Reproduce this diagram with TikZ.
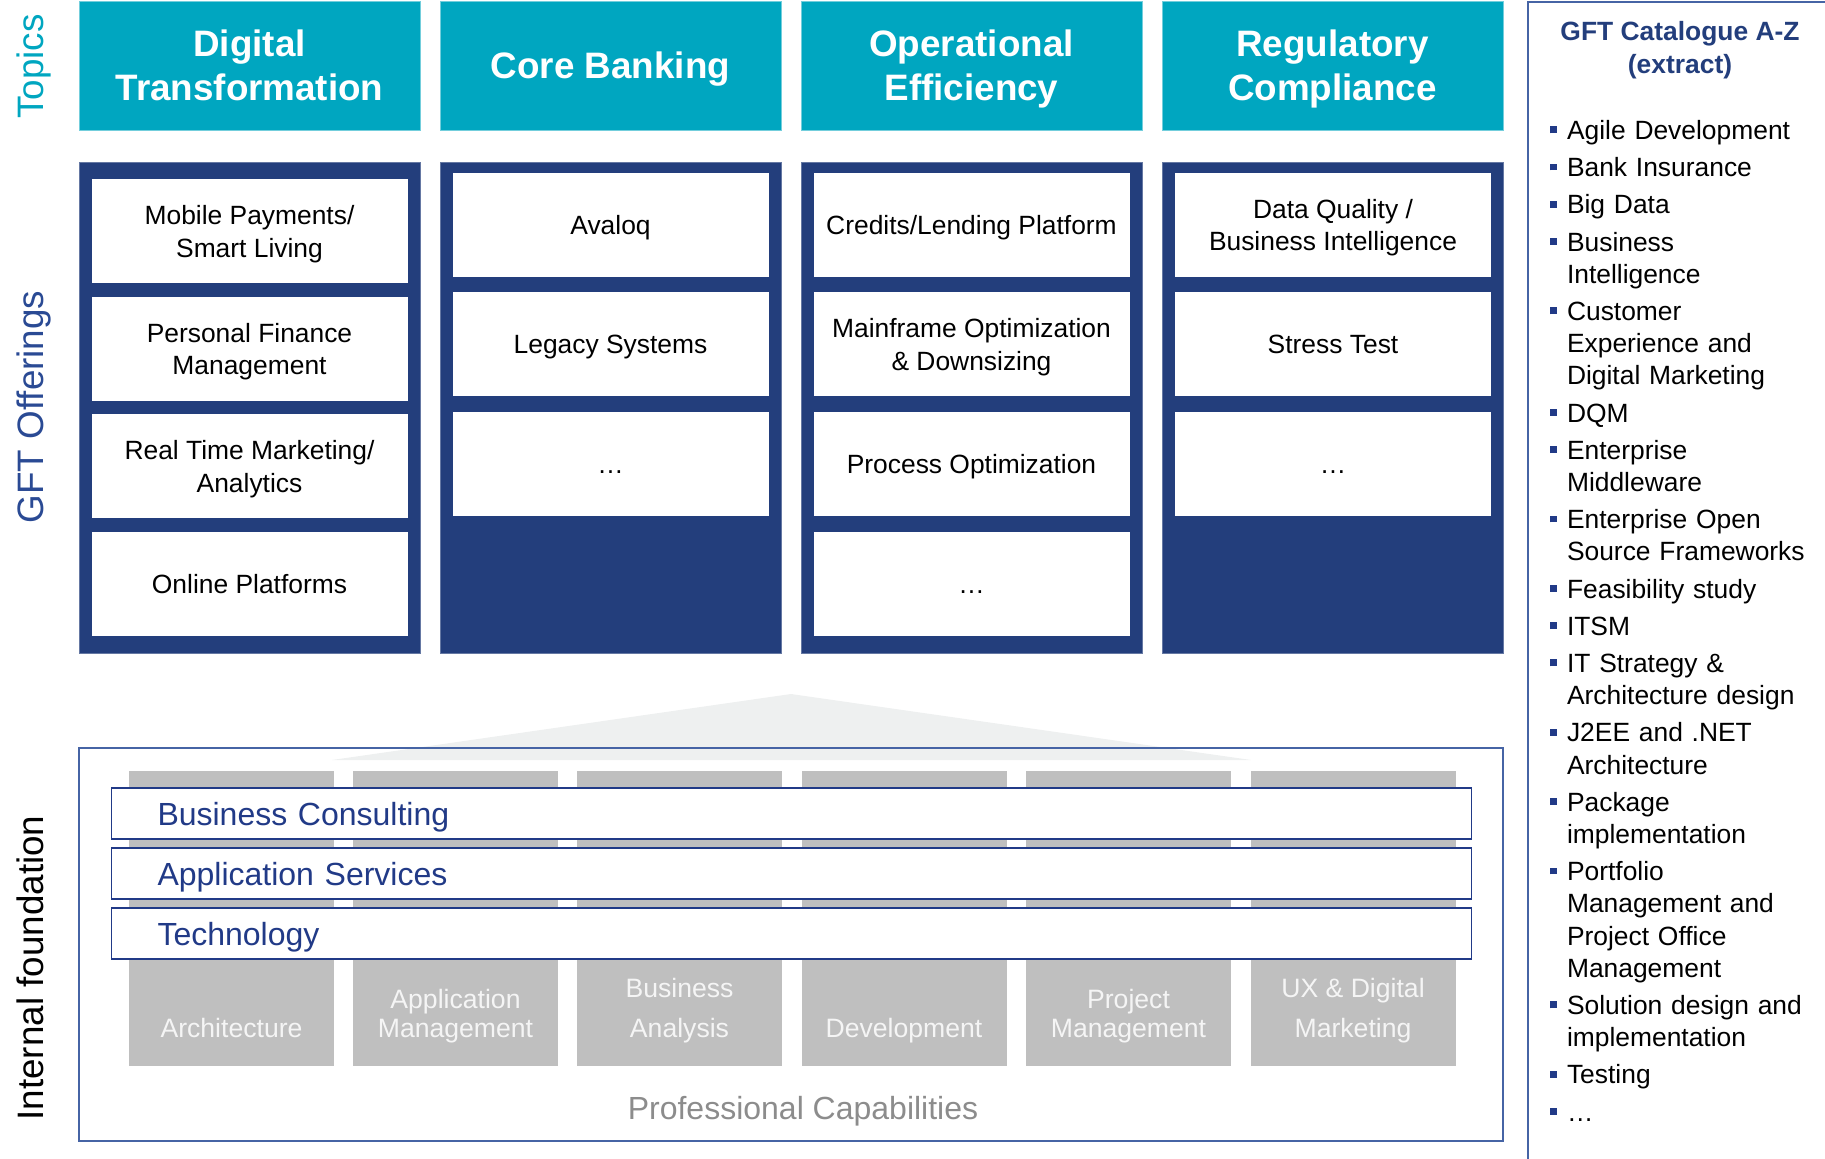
\documentclass[tikz,border=0pt]{standalone}
\usepackage{fontspec}
\setmainfont{Liberation Sans}

\definecolor{gftteal}{RGB}{0,166,192}
\definecolor{gftnavy}{RGB}{35,62,124}
\definecolor{gftblue}{RGB}{33,58,135}
\definecolor{gftlabel}{RGB}{42,74,148}
\definecolor{gftline}{RGB}{70,100,165}
\definecolor{capgray}{RGB}{191,191,191}
\definecolor{capfont}{RGB}{245,245,245}
\definecolor{roofgray}{RGB}{238,240,240}
\definecolor{profgray}{RGB}{140,140,140}

\newcommand{\catbullet}{\textcolor{gftblue}{\rule[0.24em]{0.25em}{0.26em}}}

\tikzset{
    topic/.style={fill=gftteal, draw=gftteal!55!white, line width=0.4pt, text=white, inner sep=0pt, minimum width=170.5pt, minimum height=64.5pt, text depth=0pt, align=center, font=\bfseries\fontsize{18.4}{22.1}\selectfont},
    panel/.style={fill=gftnavy, draw=gftnavy!70!white, line width=0.4pt, inner sep=0pt, minimum width=170.5pt, minimum height=245.5pt},
    offer/.style={fill=white, inner sep=0pt, minimum width=158pt, minimum height=52pt, text depth=0pt, align=center, font=\fontsize{13.2}{16.3}\selectfont},
    capcol/.style={fill=capgray, inner sep=0pt, minimum width=102.5pt, minimum height=147.5pt},
    captext/.style={text=capfont, inner sep=0pt, text depth=0pt, align=center, font=\fontsize{13.3}{14.5}\selectfont},
    band/.style={draw=gftblue, line width=0.9pt, fill=white, minimum height=25.5pt, text width=634pt, inner xsep=23pt, inner ysep=0pt, text depth=0pt, align=left, text=gftblue, font=\fontsize{16}{19}\selectfont},
    sidelabel/.style={rotate=90, inner sep=0pt, text depth=0pt, font=\fontsize{18.4}{22}\selectfont},
}

\begin{document}
\begin{tikzpicture}[x=0.5pt, y=-0.5pt]
    \useasboundingbox (0,0) rectangle (1825,1159);
    %Side labels
        \node[sidelabel, text=gftteal] (lbltopics) at (30,66.5) {Topics};
        \node[sidelabel, text=gftlabel] (lbloffer) at (30,407) {GFT Offerings};
        \node[sidelabel, text=black] (lblfound) at (30,968) {Internal foundation};
    %Topics
        \node[topic] (t1) at (249.5,65.5) {Digital\\Transformation};
        \node[topic] (t2) at (610.5,65.5) {Core Banking};
        \node[topic] (t3) at (971.5,65.5) {Operational\\Efficiency};
        \node[topic] (t4) at (1332.5,65.5) {Regulatory\\Compliance};
    %Offerings
        \node[panel] (p1) at (249.5,407.5) {};
        \node[panel] (p2) at (610.5,407.5) {};
        \node[panel] (p3) at (971.5,407.5) {};
        \node[panel] (p4) at (1332.5,407.5) {};
        %
        \node[offer] (o11) at (249.5,231.5) {Mobile Payments/\\Smart Living};
        \node[offer] (o12) at (249.5,349) {Personal Finance\\Management};
        \node[offer] (o13) at (249.5,466.5) {Real Time Marketing/\\Analytics};
        \node[offer] (o14) at (249.5,584) {Online Platforms};
        %
        \node[offer] (o21) at (610.5,225) {Avaloq};
        \node[offer] (o22) at (610.5,344.5) {Legacy Systems};
        \node[offer] (o23) at (610.5,464) {\vphantom{A}…};
        %
        \node[offer] (o31) at (971.5,225) {Credits/Lending Platform};
        \node[offer] (o32) at (971.5,344.5) {Mainframe Optimization\\\& Downsizing};
        \node[offer] (o33) at (971.5,464) {Process Optimization};
        \node[offer] (o34) at (971.5,584) {\vphantom{A}…};
        %
        \node[offer] (o41) at (1333,225) {Data Quality /\\Business Intelligence};
        \node[offer] (o42) at (1333,344.5) {Stress Test};
        \node[offer] (o43) at (1333,464) {\vphantom{A}…};
    %Internal foundation
        \fill[roofgray] (332,760) -- (791,694) -- (1251,760) -- cycle;
        \node[draw=gftline, line width=0.6pt, inner sep=0pt, minimum width=712pt, minimum height=196.5pt] (found) at (791,944.5) {};
        %
        \node[capcol] (c1) at (231.5,918.5) {};
        \node[capcol] (c2) at (455.5,918.5) {};
        \node[capcol] (c3) at (679.5,918.5) {};
        \node[capcol] (c4) at (904,918.5) {};
        \node[capcol] (c5) at (1128.5,918.5) {};
        \node[capcol] (c6) at (1353,918.5) {};
        %
        \node[band] (bc) at (791.5,813.5) {Business Consulting};
        \node[band] (as) at (791.5,873.5) {Application Services};
        \node[band] (tech) at (791.5,933.5) {Technology};
        %
        \node[captext] (cl1) at (231.5,1028) {Architecture};
        \node[captext] (cl2) at (455.5,1013.5) {Application\\Management};
        \node[captext, font=\fontsize{13.3}{20}\selectfont] (cl3) at (679.5,1008) {Business\\Analysis};
        \node[captext] (cl4) at (904,1028) {Development};
        \node[captext] (cl5) at (1128.5,1013.5) {Project\\Management};
        \node[captext, font=\fontsize{13.3}{20}\selectfont] (cl6) at (1353,1008) {UX \& Digital\\Marketing};
        %
        \node[text=profgray, inner sep=0pt, text depth=0pt, font=\fontsize{16}{19}\selectfont] (profcap) at (803,1108) {Professional Capabilities};
    %Catalogue
        \draw[gftline, line width=0.6pt] (1826,2) -- (1528,2) -- (1528,1160);
        \node[text=gftnavy, inner sep=0pt, align=center, font=\bfseries\fontsize{13.2}{16.3}\selectfont] (cattitle) at (1680,50) {GFT Catalogue A-Z\\(extract)};
        \node[anchor=north west, inner sep=0pt, text width=135pt, align=left, font=\fontsize{13.2}{16.1}\selectfont] (catlist) at (1550,107) {%
            \begin{list}{\catbullet}{\setlength{\leftmargin}{8.3pt}\setlength{\labelwidth}{3.3pt}\setlength{\labelsep}{5pt}%
                \setlength{\itemsep}{2.5pt}\setlength{\parsep}{0pt}\setlength{\topsep}{0pt}\setlength{\partopsep}{0pt}}
            \item Agile Development
            \item Bank Insurance
            \item Big Data
            \item Business\\Intelligence
            \item Customer\\Experience and\\Digital Marketing
            \item DQM
            \item Enterprise\\Middleware
            \item Enterprise Open\\Source Frameworks
            \item Feasibility study
            \item ITSM
            \item IT Strategy \&\\Architecture design
            \item J2EE and .NET\\Architecture
            \item Package\\implementation
            \item Portfolio\\Management and\\Project Office\\Management
            \item Solution design and\\implementation
            \item Testing
            \item …
            \end{list}};
\end{tikzpicture}
\end{document}
